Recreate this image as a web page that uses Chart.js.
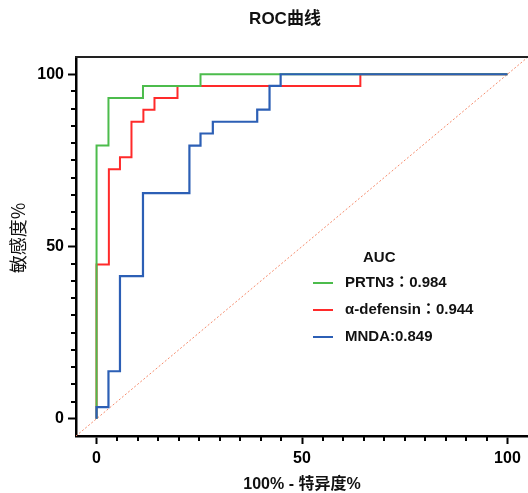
<!DOCTYPE html>
<html>
<head>
<meta charset="utf-8">
<script src="https://cdn.jsdelivr.net/npm/chart.js@4/dist/chart.umd.min.js"></script>
<style>
  html, body { margin: 0; padding: 0; background: #fff; overflow: hidden; }
  #wrap { width: 528px; height: 493px; position: relative; }
</style>
</head>
<body>
<div id="wrap"><canvas id="c" width="528" height="493"></canvas></div>
<script>
// ---- data ----
const chartTitle = 'ROC曲线';
const xTitle = '100% - 特异度%';
const yTitle = '敏感度%';
const legendHeader = 'AUC';
const seriesNames = ['PRTN3：0.984', 'α-defensin：0.944', 'MNDA:0.849'];
const tickLabels = [0, 50, 100];

const prtn3X = [0, 0, 2.9, 2.9, 11.3, 11.3, 25.3, 25.3, 100];
const prtn3Y = [0, 79.3, 79.3, 93.1, 93.1, 96.6, 96.6, 100, 100];

const defensinX = [0, 0, 3.0, 3.0, 5.7, 5.7, 8.5, 8.5, 11.4, 11.4, 14.1, 14.1, 19.7, 19.7, 64.2, 64.2, 100];
const defensinY = [0, 44.8, 44.8, 72.4, 72.4, 75.9, 75.9, 86.2, 86.2, 89.7, 89.7, 93.1, 93.1, 96.6, 96.6, 100, 100];

const mndaX = [0, 0, 2.9, 2.9, 5.7, 5.7, 11.3, 11.3, 22.6, 22.6, 25.3, 25.3, 28.3, 28.3, 39.1, 39.1, 42.1, 42.1, 44.8, 44.8, 100];
const mndaY = [0, 3.4, 3.4, 13.8, 13.8, 41.4, 41.4, 65.5, 65.5, 79.3, 79.3, 82.8, 82.8, 86.2, 86.2, 89.7, 89.7, 96.6, 96.6, 100, 100];

const refX = [-5, 105];
const refY = [-5, 105];

// ---- helpers ----
const pts = (xs, ys) => xs.map((x, i) => ({ x: x, y: ys[i] }));
const colors = ['#4cbc4c', '#ff2a2a', '#2c5fb5'];
const FONT = '"Liberation Sans", Arial, "Noto Sans CJK TC", sans-serif';

const minorTicks = {
  id: 'minorTicks',
  afterDraw(chart) {
    const ctx = chart.ctx;
    const ca = chart.chartArea;
    ctx.save();
    ctx.strokeStyle = '#000';
    ctx.lineWidth = 2;
    const xs = chart.scales.x, ys = chart.scales.y;
    xs.ticks.forEach(t => {
      if (t.value % 50 !== 0) {
        const p = Math.round(xs.getPixelForValue(t.value));
        ctx.beginPath(); ctx.moveTo(p, ca.bottom); ctx.lineTo(p, ca.bottom + 5); ctx.stroke();
      }
    });
    ys.ticks.forEach(t => {
      if (t.value % 50 !== 0) {
        const p = Math.round(ys.getPixelForValue(t.value));
        ctx.beginPath(); ctx.moveTo(ca.left, p); ctx.lineTo(ca.left - 5, p); ctx.stroke();
      }
    });
    // top frame line
    ctx.strokeStyle = '#222';
    ctx.lineWidth = 2;
    ctx.beginPath(); ctx.moveTo(ca.left - 1, ca.top); ctx.lineTo(chart.width, ca.top); ctx.stroke();
    ctx.restore();
  }
};

const titleAndLegend = {
  id: 'titleAndLegend',
  afterDraw(chart) {
    const ctx = chart.ctx;
    ctx.save();
    ctx.fillStyle = '#111';
    ctx.textBaseline = 'middle';
    ctx.textAlign = 'center';
    ctx.font = 'bold 17px ' + FONT;
    ctx.fillText(chartTitle, 285, 19);

    // y-axis title
    ctx.save();
    ctx.translate(18, 238);
    ctx.rotate(-Math.PI / 2);
    ctx.font = '18px "Noto Sans CJK SC", sans-serif';
    ctx.fillText(yTitle, 0, 0);
    ctx.restore();

    ctx.textAlign = 'left';
    ctx.font = 'bold 15px ' + FONT;
    ctx.fillText(legendHeader, 363, 258);
    const rows = [283, 310, 337];
    seriesNames.forEach((name, i) => {
      ctx.strokeStyle = colors[i];
      ctx.lineWidth = 2;
      ctx.beginPath(); ctx.moveTo(313, rows[i]); ctx.lineTo(333, rows[i]); ctx.stroke();
      ctx.fillStyle = '#111';
      ctx.fillText(name, 345, rows[i]);
    });
    ctx.restore();
  }
};

const keepTicks = scale => {
  scale.ticks = scale.ticks.filter(t => t.value >= 0 && t.value <= 100);
};

new Chart(document.getElementById('c'), {
  type: 'line',
  data: {
    datasets: [
      { label: seriesNames[0], data: pts(prtn3X, prtn3Y), borderColor: colors[0], borderWidth: 2, order: 2 },
      { label: seriesNames[1], data: pts(defensinX, defensinY), borderColor: colors[1], borderWidth: 2, order: 3 },
      { label: seriesNames[2], data: pts(mndaX, mndaY), borderColor: colors[2], borderWidth: 2.2, order: 1 },
      { label: 'ref', data: pts(refX, refY), borderColor: '#f58b6c', borderWidth: 1, borderDash: [2, 2], order: 4 }
    ]
  },
  options: {
    responsive: false,
    animation: false,
    devicePixelRatio: 1,
    layout: { padding: { top: 57, right: 0, left: 0, bottom: 0 } },
    elements: { point: { radius: 0 }, line: { tension: 0, fill: false } },
    plugins: { legend: { display: false }, title: { display: false }, tooltip: { enabled: false } },
    scales: {
      x: {
        type: 'linear', min: -5, max: 105,
        afterBuildTicks: keepTicks,
        afterFit: s => { s.height = 57; },
        border: { display: true, color: '#000', width: 2.5 },
        grid: { display: true, drawOnChartArea: false, drawTicks: true, tickLength: 8, tickWidth: 2,
                tickColor: c => (c.tick && c.tick.value % 50 === 0) ? '#000' : 'rgba(0,0,0,0)' },
        ticks: { stepSize: 5, autoSkip: false, maxRotation: 0, padding: 5, color: '#000',
                 font: { family: FONT, size: 16, weight: 'bold' },
                 callback: v => tickLabels.includes(v) ? String(v) : '' },
        title: { display: true, text: xTitle, color: '#111', font: { family: FONT, size: 16, weight: 'bold' },
                 padding: { top: 0, bottom: -1 } }
      },
      y: {
        type: 'linear', min: -5, max: 105,
        afterBuildTicks: keepTicks,
        afterFit: s => { s.width = 76; },
        border: { display: true, color: '#000', width: 2.5 },
        grid: { display: true, drawOnChartArea: false, drawTicks: true, tickLength: 8, tickWidth: 2,
                tickColor: c => (c.tick && c.tick.value % 50 === 0) ? '#000' : 'rgba(0,0,0,0)' },
        ticks: { stepSize: 5, autoSkip: false, padding: 4, color: '#000',
                 font: { family: FONT, size: 16, weight: 'bold' },
                 callback: v => tickLabels.includes(v) ? String(v) : '' },
        title: { display: false, text: yTitle }
      }
    }
  },
  plugins: [minorTicks, titleAndLegend]
});
</script>
</body>
</html>
